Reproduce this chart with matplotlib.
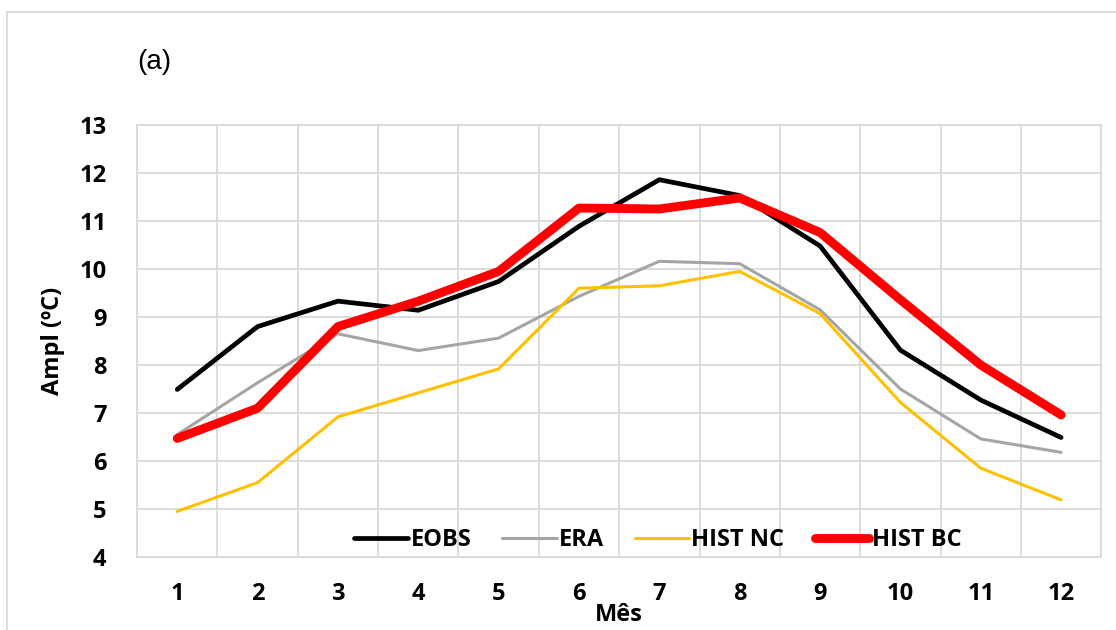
import matplotlib
matplotlib.use("Agg")
import matplotlib.pyplot as plt
from matplotlib.patches import Rectangle
import numpy as np

months = [1, 2, 3, 4, 5, 6, 7, 8, 9, 10, 11, 12]
eobs = [7.49, 8.80, 9.33, 9.14, 9.74, 10.89, 11.86, 11.53, 10.48, 8.31, 7.27, 6.49]
era = [6.55, 7.63, 8.65, 8.30, 8.56, 9.43, 10.16, 10.11, 9.15, 7.50, 6.46, 6.18]
hist_nc = [4.95, 5.55, 6.92, 7.42, 7.92, 9.60, 9.65, 9.95, 9.07, 7.22, 5.85, 5.19]
hist_bc = [6.47, 7.10, 8.80, 9.33, 9.95, 11.27, 11.25, 11.48, 10.76, 9.36, 8.00, 6.96]

labels = ["EOBS", "ERA", "HIST NC", "HIST BC"]
colors = ["black", "#A5A5A5", "#FFC000", "#FF0000"]
widths = [3.4, 2.2, 2.2, 6.4]
grid_c = "#D9D9D9"
fs = 17

plt.rcParams['font.family'] = ['Open Sans', 'DejaVu Sans']
plt.rcParams['font.weight'] = 'bold'

fig = plt.figure(figsize=(11.16, 6.3), dpi=100)
ax = fig.add_axes([0.1228, 0.1159, 0.864, 0.6857])

''' the lines '''
for y, lab, c, lw in zip([eobs, era, hist_nc, hist_bc], labels, colors, widths):
    ax.plot(months, y, color=c, lw=lw, label=lab, solid_capstyle="round", solid_joinstyle="round")

''' axes and grid '''
ax.set_xlim(0.5, 12.5); ax.set_ylim(4, 13)
ax.set_xticks(months)
ax.set_xticks(np.arange(0.5, 13, 1), minor=True)
ax.set_yticks(range(4, 14))
ax.grid(which="minor", axis="x", color=grid_c, lw=1.3)
ax.grid(which="major", axis="y", color=grid_c, lw=1.3)
ax.set_axisbelow(True)
for s in ax.spines.values():
    s.set_color(grid_c); s.set_linewidth(1.3)
ax.tick_params(which="both", length=0)
ax.tick_params(axis="x", pad=18)
ax.tick_params(axis="y", pad=22)
for t in ax.get_xticklabels() + ax.get_yticklabels():
    t.set_fontsize(fs); t.set_fontweight("bold")

ax.set_xlabel("Mês", fontsize=fs, fontweight="bold", labelpad=-2)
ax.set_ylabel("Ampl (ºC)", fontsize=fs, fontweight="bold", labelpad=10)

''' legend '''
leg = ax.legend(loc="lower center", bbox_to_anchor=(0.54, -0.01), ncol=4, frameon=False,
                prop={"weight": "bold", "size": fs},
                handlelength=2.3, handletextpad=0.1, columnspacing=1.3, borderaxespad=0.0)

''' panel letter and outer frame '''
fig.text(137 / 1116, 1 - 62 / 630, "(a)", fontsize=20, family="Liberation Sans",
         fontweight="normal", va="center", ha="left")
fig.add_artist(Rectangle((7 / 1116, -0.1), 1.2, 1 - 12 / 630 + 0.1, transform=fig.transFigure,
                         fill=False, edgecolor=grid_c, lw=1.3))

fig.savefig("out.png", dpi=100)
